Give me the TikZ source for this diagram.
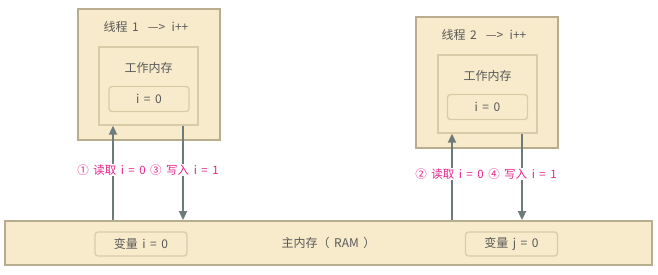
\documentclass[tikz,border=0pt]{standalone}
\usepackage{fontspec}
\setmainfont{Noto Sans CJK SC}
\usetikzlibrary{arrows.meta, positioning}
\usepackage{xcolor}

\definecolor{paper}{HTML}{F8EBCB}
\definecolor{edge}{HTML}{B8AD8F}
\definecolor{softedge}{HTML}{D8CCA8}
\definecolor{wire}{HTML}{6D7B7B}
\definecolor{ink}{HTML}{595959}
\definecolor{note}{HTML}{E8258C}

% wider word gaps for the short formulas
\newcommand{\roomy}{\spaceskip=4.5pt\relax}

\begin{document}
\begin{tikzpicture}[
  x=1pt, y=-1pt,
  thread/.style={rectangle, draw=edge, line width=1.8pt, fill=paper, minimum width=142pt, minimum height=131pt, inner sep=0pt},
  workmem/.style={rectangle, draw=softedge, line width=1.3pt, fill=paper, minimum width=99pt, minimum height=78pt, inner sep=0pt},
  var/.style={rectangle, rounded corners=3pt, draw=softedge, line width=1.3pt, fill=paper, minimum width=80pt, minimum height=25pt, inner sep=0pt, text=ink, font=\fontsize{12}{14}\selectfont\roomy},
  title/.style={text=ink, inner sep=0pt, font=\fontsize{12}{14}\selectfont\roomy},
  note/.style={text=note, fill=white, inner sep=1pt, font=\fontsize{11.5}{13}\selectfont\roomy},
  wire/.style={draw=wire, line width=1.8pt, -{Triangle[length=9pt, width=8pt]}}
]
\useasboundingbox (0,0) rectangle (658,275);

% main memory
\node[rectangle, draw=edge, line width=1.8pt, fill=paper, minimum width=647pt, minimum height=44pt, inner sep=0pt] (ram) at (328.5,243) {};
\node[title] (ramname) at (ram.center) {主内存（ RAM ）};
\node[var, minimum width=92pt, minimum height=24pt] (vi) at (141,244) {变量 i = 0};
\node[var, minimum width=92pt, minimum height=24pt] (vj) at (511.5,244) {变量 j = 0};

% thread 1
\node[thread] (t1) at (149,74.5) {};
\node[title] (t1name) at ([xshift=-3pt, yshift=-19pt]t1.north) {线程 1 \ —> \,i++};
\node[workmem] (w1) at (148.5,86) {};
\node[title] (w1name) at ([yshift=18pt]w1.center) {工作内存};
\node[var] (v1) at (149,99) {i = 0};

% thread 2
\node[thread] (t2) at (487,82.5) {};
\node[title] (t2name) at ([xshift=-3pt, yshift=-19pt]t2.north) {线程 2 \ —> \,i++};
\node[workmem] (w2) at (487.5,94) {};
\node[title] (w2name) at ([yshift=18pt]w2.center) {工作内存};
\node[var] (v2) at (487.5,107) {i = 0};

% read / write
\draw[wire] ([xshift=-35.5pt]w1.south |- ram.north) -- ([xshift=-35.5pt]w1.south);
\draw[wire] ([xshift=34.5pt]w1.south) -- ([xshift=34.5pt]w1.south |- ram.north);
\draw[wire] ([xshift=-35.5pt]w2.south |- ram.north) -- ([xshift=-35.5pt]w2.south);
\draw[wire] ([xshift=34.5pt]w2.south) -- ([xshift=34.5pt]w2.south |- ram.north);

\node[note] (n1) at (148,170) {① 读取 i = 0 ③ 写入 i = 1};
\node[note] (n2) at (486,174) {② 读取 i = 0 ④ 写入 i = 1};
\end{tikzpicture}
\end{document}
